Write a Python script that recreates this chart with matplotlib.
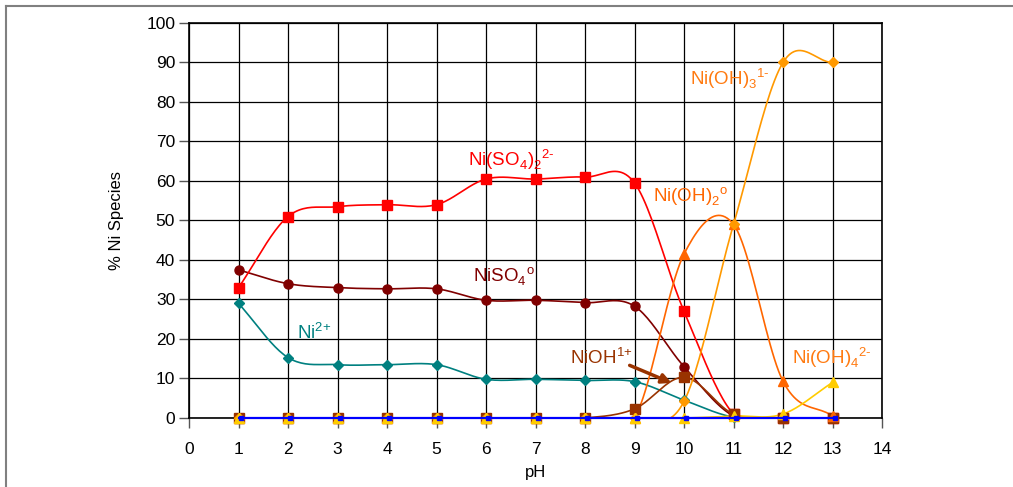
import numpy as np
import matplotlib
matplotlib.use('Agg')
import matplotlib.pyplot as plt
from matplotlib.lines import Line2D

plt.rcParams['font.family'] = ['Liberation Sans', 'DejaVu Sans']
plt.rcParams['mathtext.fontset'] = 'custom'
plt.rcParams['mathtext.rm'] = 'Liberation Sans'

#-----------------DATA-----------------
ph = [1, 2, 3, 4, 5, 6, 7, 8, 9, 10, 11, 12, 13]

ni2 = [29, 15.3, 13.5, 13.5, 13.5, 9.8, 9.8, 9.5, 9.2, 4.5, 0.2, 0, 0]
niso4 = [37.5, 34, 33, 32.7, 32.7, 29.8, 29.8, 29.2, 28.3, 13, 0.5, 0, 0]
niso4_2 = [33, 51, 53.5, 54, 54, 60.5, 60.5, 61, 59.5, 27, 1, 0, 0]
nioh = [0, 0, 0, 0, 0, 0, 0, 0, 2.3, 10.3, 1, 0, 0]
nioh2 = [0, 0, 0, 0, 0, 0, 0, 0, 0, 41.5, 49, 9.3, 0.5]
nioh3 = [0, 0, 0, 0, 0, 0, 0, 0, 0, 4.2, 49, 90, 90]
nioh4 = [0, 0, 0, 0, 0, 0, 0, 0, 0, 0, 0.5, 1, 9]
ni_other = [0, 0, 0, 0, 0, 0, 0, 0, 0, 0, 0, 0, 0]


#-----------------GRAPH FUNCTIONS-----------------

#smoothed line like a spreadsheet chart (catmull-rom through the points)
def smooth(x, y, n=24):
    x = np.asarray(x, float)
    y = np.asarray(y, float)
    px = np.concatenate([[2 * x[0] - x[1]], x, [2 * x[-1] - x[-2]]])
    py = np.concatenate([[2 * y[0] - y[1]], y, [2 * y[-1] - y[-2]]])
    xs, ys = [], []
    t = np.linspace(0, 1, n)
    for i in range(1, len(px) - 2):
        for p, out in ((px, xs), (py, ys)):
            p0, p1, p2, p3 = p[i - 1], p[i], p[i + 1], p[i + 2]
            out.append(0.5 * ((2 * p1) + (-p0 + p2) * t
                              + (2 * p0 - 5 * p1 + 4 * p2 - p3) * t ** 2
                              + (-p0 + 3 * p1 - 3 * p2 + p3) * t ** 3))
    return np.concatenate(xs), np.concatenate(ys)


fig = plt.figure(figsize=(10.13, 4.87), dpi=100)
ax = fig.add_axes([0.1866, 0.1417, 0.6841, 0.8111])

series = [
    (ni2, '#008080', 'D', 5),
    (niso4, '#800000', 'o', 6.5),
    (niso4_2, '#FF0000', 's', 6.5),
    (nioh, '#993300', 's', 6.5),
    (nioh2, '#FF6600', '^', 7),
    (nioh3, '#FF9900', 'D', 5.5),
    (nioh4, '#FFCC00', '^', 7),
]
for vals, col, mk, ms in series:
    sx, sy = smooth(ph, vals)
    ax.plot(sx, sy, color=col, lw=1.2, zorder=3)
    ax.plot(ph, vals, linestyle='none', marker=mk, ms=ms, color=col,
            zorder=4, clip_on=False)

ax.plot(ph, ni_other, color='#0000FF', lw=1.6, zorder=5, clip_on=False)
ax.plot(np.array(ph) + 0.05, ni_other, linestyle='none', marker='s', ms=3.5,
        color='#0000FF', zorder=6, clip_on=False)

ax.set_xlim(0, 14)
ax.set_ylim(0, 100)
ax.set_xticks(range(0, 15))
ax.set_yticks(range(0, 101, 10))
ax.grid(True, color='black', lw=0.9)
ax.set_axisbelow(True)
for s in ax.spines.values():
    s.set_color('black')
    s.set_linewidth(1.2)
ax.tick_params(direction='out', length=7, width=1, color='#555555',
               labelsize=12.5)
ax.tick_params(axis='y', pad=3)
ax.tick_params(axis='x', pad=10)
ax.set_xlabel('pH', fontsize=12, labelpad=6)
ax.set_ylabel('% Ni Species', fontsize=12, labelpad=16)

lab = dict(fontsize=13.5, va='center', ha='left')
ax.text(5.64, 65.5, r'Ni(SO$_4$)$_2$$^{2\text{-}}$', color='#FF0000', **lab)
ax.text(5.74, 36, r'NiSO$_4$$^{\mathrm{o}}$', color='#800000', **lab)
ax.text(2.18, 21.5, r'$\mathrm{Ni}^{2{+}}$', color='#008080', **lab)
ax.text(7.7, 15.3, r'NiOH$^{1{+}}$', color='#993300', **lab)
ax.text(9.37, 56, r'Ni(OH)$_2$$^{\mathrm{o}}$', color='#FF6600', **lab)
ax.text(10.12, 86, r'Ni(OH)$_3$$^{1\text{-}}$', color='#FF7A10', **lab)
ax.text(12.18, 15.3, r'Ni(OH)$_4$$^{2\text{-}}$', color='#FF7A10', **lab)
ax.annotate('', xy=(9.8, 8.6), xytext=(8.85, 13.6),
            arrowprops=dict(arrowstyle='-|>', color='#993300', lw=2.5,
                            mutation_scale=14), zorder=7)

#outer chart frame: only the top and left edges show in the picture
x0, y0 = 6 / 1013, 1 - 6 / 487
fig.add_artist(Line2D([x0, 1.0], [y0, y0], color='#808080', lw=1.5))
fig.add_artist(Line2D([x0, x0], [0.0, y0], color='#808080', lw=1.5))

fig.savefig('out.png', dpi=100)
